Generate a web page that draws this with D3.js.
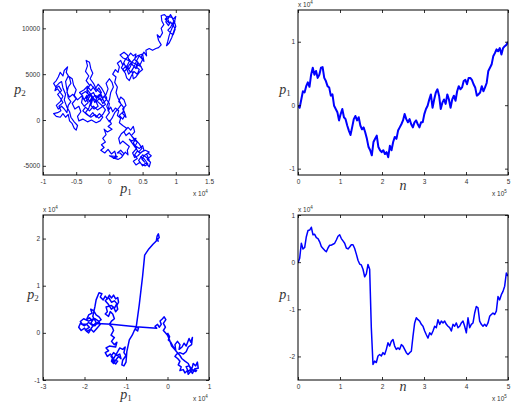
<!DOCTYPE html>
<html>
<head>
<meta charset="utf-8">
<script src="https://cdn.jsdelivr.net/npm/d3@7"></script>
<style>
  body { margin: 0; background: #fff; }
  svg { display: block; }
  .tick text { font-family: "Liberation Sans", Arial, sans-serif; font-size: 6.5px; fill: #333; }
  .tick line { stroke: #000; stroke-width: 0.8; }
  .exp { font-family: "Liberation Sans", Arial, sans-serif; font-size: 6.5px; fill: #333; }
  .lab { font-family: "Liberation Serif", "Times New Roman", serif; fill: #333; }
</style>
</head>
<body>
<svg id="fig" width="518" height="407"></svg>
<script>
// --- données ---

// marche 2D (haut gauche) : p1 en unités de 1e4, p2 brut
const walkTop = [
  [0,0],[0.03,-400],[-0.02,-700],[0.04,-1000],[-0.03,-1300],[-0.08,-1000],[-0.05,-1600],[-0.1,-2000],[-0.06,-2400],[-0.12,-2700],
  [-0.08,-3000],[-0.13,-3300],[-0.07,-3600],[-0.02,-3200],[0.03,-3700],[0.08,-3400],[0.1,-3900],[0.06,-4200],[0.12,-4000],
  [0.0,-3900],[0.05,-4100],[0.13,-4300],[0.18,-4100],[0.22,-3700],[0.17,-3300],[0.12,-3600],[0.16,-3600],
  [0.2,-3900],[0.24,-3500],[0.28,-3800],[0.27,-3300],[0.3,-2900],[0.25,-2600],[0.2,-2300],[0.16,-2600],[0.14,-2000],[0.18,-1500],
  [0.23,-1200],[0.28,-800],[0.32,-1100],[0.36,-700],[0.38,-1300],[0.33,-1700],[0.37,-2100],[0.42,-2400],[0.39,-2800],[0.45,-3100],
  [0.5,-2800],[0.52,-3300],[0.47,-3600],[0.42,-3400],[0.38,-3800],[0.42,-4200],[0.36,-4500],[0.4,-4900],[0.46,-4600],[0.5,-5000],
  [0.55,-4700],[0.6,-5100],[0.62,-4600],[0.57,-4300],[0.63,-3900],[0.58,-3600],[0.52,-3900],[0.49,-4300],[0.53,-4600],[0.47,-4000],
  [0.52,-4200],[0.58,-4800],[0.54,-5000],[0.48,-4800],[0.44,-4400],[0.5,-3800],[0.56,-4100],[0.6,-4400],[0.56,-3700],[0.6,-3500],
  [0.54,-3300],[0.48,-3500],[0.43,-3900],[0.38,-4100],[0.35,-3600],[0.41,-3100],[0.36,-2500],[0.4,-2000],[0.34,-2300],[0.3,-2100],
  [0.44,-3500],[0.49,-3100],[0.45,-2600],[0.4,-2200],[0.34,-1800],[0.3,-1400],[0.25,-1700],[0.22,-1300],[0.26,-900],[0.2,-600],
  [0.15,-300],[0.17,200],[0.12,500],[0.14,1000],[0.09,1300],[0.05,900],[0.02,1400],[-0.02,1000],[0,1800],
  [-0.08,2600],[-0.12,2100],[-0.18,2500],[-0.22,1900],[-0.26,2500],[-0.3,2000],[-0.34,2700],[-0.38,2200],[-0.42,2800],[-0.36,3100],
  [-0.3,2700],[-0.24,3000],[-0.2,2400],[-0.15,2800],[-0.1,2300],[-0.06,1700],[-0.12,1400],[-0.18,1100],[-0.24,1500],[-0.3,1000],
  [-0.36,1400],[-0.4,1000],[-0.34,600],[-0.28,300],[-0.22,600],[-0.16,200],[-0.1,600],[-0.06,1100],[-0.1,1500],[-0.16,1900],
  [-0.22,2200],[-0.28,2800],[-0.34,3400],[-0.28,3900],[-0.22,3300],[-0.17,3900],[-0.12,3500],[-0.08,3000],[-0.04,2400],
  [-0.05,2200],[-0.1,1800],[-0.14,2400],[-0.2,2000],[-0.17,1500],[-0.23,1200],[-0.28,1600],[-0.25,2300],[-0.3,2800],[-0.35,2400],
  [-0.32,1900],[-0.38,1500],[-0.42,1900],[-0.4,2600],[-0.45,3000],[-0.38,3300],[-0.33,3700],[-0.28,3200],[-0.24,3600],[-0.2,3100],
  [-0.16,3500],[-0.12,3000],[-0.16,2500],[-0.22,2700],[-0.27,2200],[-0.31,1300],[-0.36,800],[-0.3,400],[-0.25,800],[-0.2,300],
  [-0.15,700],[-0.1,300],[-0.14,-100],[-0.2,-300],[-0.27,0],[-0.33,-200],[-0.4,100],[-0.46,-100],[-0.48,400],[-0.43,900],
  [-0.46,1500],[-0.52,1200],[-0.56,1800],[-0.5,2300],[-0.55,2800],
  [-0.6,2500],[-0.64,3000],[-0.62,3600],[-0.58,4000],[-0.6,4600],[-0.65,5200],[-0.63,5800],[-0.68,5400],[-0.7,4800],[-0.74,5200],
  [-0.77,4700],[-0.8,4300],[-0.84,4000],[-0.8,3500],[-0.76,3700],[-0.72,3200],[-0.78,2800],[-0.74,2400],[-0.7,1900],[-0.76,1500],
  [-0.73,1000],[-0.78,800],[-0.84,700],[-0.8,400],[-0.74,300],[-0.7,700],[-0.66,300],[-0.62,600],[-0.6,-100],[-0.56,-400],
  [-0.53,-900],[-0.5,-1100],[-0.48,-600],[-0.53,-200],[-0.58,300],[-0.6,900],[-0.64,1400],[-0.68,2200],[-0.66,2800],[-0.7,3500],
  [-0.72,4200],[-0.76,4000],[-0.8,3700],[-0.82,3200],[-0.78,3400],[-0.74,3000],[-0.7,2600],[-0.74,2000],[-0.8,1600],[-0.77,1200],
  [-0.72,1500],[-0.68,1200],[-0.64,800],[-0.62,1600],[-0.58,2000],[-0.62,2400],
  [-0.66,4200],[-0.62,4800],[-0.56,4500],[-0.54,3800],[-0.5,3300],[-0.53,2700],[-0.48,2200],
  [-0.42,2600],[-0.36,2000],[-0.3,2500],[-0.34,3200],[-0.3,3800],[-0.35,4300],[-0.31,4800],[-0.36,5300],[-0.33,5900],[-0.35,6500],
  [-0.3,6300],[-0.28,5600],[-0.25,5100],[-0.29,4500],[-0.24,4000],[-0.2,3400],[-0.14,3000],[-0.1,2400],[-0.05,2800],[-0.02,3400],
  [-0.05,4000],[0,4500],[0.04,4100],[0.06,3600],[0.02,3000],[0,2200],[-0.04,1500],[0,800],[-0.05,300],[0,-200],
  [0.04,200],[0.08,800],[0.13,1200],[0.18,1700],[0.22,1300],[0.2,700],[0.25,300],[0.22,1000],
  [0.15,500],[0.2,100],[0.24,600],[0.2,1200],[0.25,1600],[0.22,2200],[0.17,2500],[0.14,2000],
  [0.17,1800],[0.13,2400],[0.1,3000],[0.12,3600],[0.08,4100],[0.1,4700],[0.05,5000],
  [0.09,5500],[0.13,5200],[0.15,5800],[0.12,6200],[0.17,6500],[0.2,6000],[0.24,6600],[0.28,6900],[0.32,7300],[0.36,7000],
  [0.4,7200],[0.38,6600],[0.43,6300],[0.4,5800],[0.45,5500],[0.42,5000],[0.37,5300],[0.33,4800],[0.3,4300],[0.26,4600],
  [0.24,5100],[0.2,5500],[0.25,5900],[0.3,5600],[0.34,6200],[0.3,6600],[0.35,6000],[0.4,5600],[0.44,6200],[0.48,5800],
  [0.2,6800],[0.16,7100],[0.22,7400],[0.27,7100],[0.3,6400],[0.26,5800],[0.32,5200],[0.37,5800],[0.42,6600],[0.45,7000],
  [0.5,6600],[0.46,6000],[0.5,5500],[0.45,5200],[0.4,4700],[0.36,4500],[0.34,5400],[0.29,5000],[0.27,5400],[0.22,6200],
  [0.18,5700],[0.23,5300],[0.3,6000],[0.36,6500],[0.42,7000],[0.5,7200],
  [0.52,6400],[0.48,6900],[0.52,7400],[0.56,7000],[0.55,7600],[0.6,7800],
  [0.65,7600],[0.7,7800],[0.74,7900],[0.78,8200],[0.74,8700],[0.72,9300],[0.76,9000],[0.8,9500],[0.78,10000],[0.82,10400],
  [0.79,10800],[0.78,11400],[0.83,11500],[0.87,11200],[0.85,10700],[0.89,10300],[0.92,10700],[0.96,10300],[0.93,9800],[0.9,9200],
  [0.88,8600],[0.86,8100],[0.9,8400],[0.94,9000],[0.97,9700],[1,10200],[0.98,10700],[1,11300],[0.96,11000],[0.92,11500],
  [0.88,11000],[0.91,10500],[0.84,11000],[0.88,11300],[0.94,11200],[0.97,10800],[0.92,10100],[0.88,9800],[0.92,9500],[0.96,9300],
  [0.99,9900],[0.96,10400],[0.99,10800]
];

// p1 en fonction de n (haut droite), unités de 1e4, pas régulier sur n = 0..5 (x1e5)
const p1Top = [
  -0.01,-0.04,0.09,0.22,0.2,0.3,0.36,0.29,0.48,0.59,0.48,0.54,0.43,0.48,0.59,0.6,0.43,0.38,0.3,0.28,
  0.15,0.17,-0.01,-0.06,-0.11,-0.24,-0.14,-0.06,-0.19,-0.22,-0.32,-0.4,-0.47,-0.35,-0.22,-0.17,-0.24,-0.19,-0.32,-0.38,
  -0.35,-0.43,-0.53,-0.66,-0.71,-0.79,-0.58,-0.53,-0.48,-0.66,-0.71,-0.74,-0.71,-0.77,-0.74,-0.82,-0.64,-0.71,-0.58,-0.5,
  -0.53,-0.4,-0.35,-0.3,-0.24,-0.14,-0.22,-0.27,-0.22,-0.3,-0.35,-0.27,-0.24,-0.3,-0.35,-0.27,-0.27,-0.14,-0.06,-0.01,
  0.09,0.17,-0.04,0.09,0.2,0.25,0.15,-0.06,0.04,0.09,0.02,0.17,0.09,-0.04,0.09,0.15,0.07,0.22,0.3,0.25,
  0.28,0.38,0.4,0.33,0.43,0.43,0.4,0.33,0.28,0.15,0.17,0.2,0.3,0.22,0.28,0.35,0.54,0.59,0.64,0.77,
  0.82,0.88,0.85,0.9,0.8,0.9,0.93,0.95,1.0
];

// marche 2D (bas gauche) : les deux en unités de 1e4
const walkBottom = [
  [0,0],[0.05,-0.08],[0.02,-0.15],[0.08,-0.2],[0.14,-0.3],[0.2,-0.38],[0.18,-0.25],[0.24,-0.18],[0.3,-0.25],[0.28,-0.35],
  [0.35,-0.3],[0.4,-0.22],[0.45,-0.28],[0.52,-0.12],[0.56,-0.2],[0.6,-0.1],[0.58,-0.25],[0.5,-0.3],[0.45,-0.4],[0.38,-0.45],
  [0.3,-0.42],[0.22,-0.45],[0.18,-0.5],[0.25,-0.55],[0.3,-0.6],[0.26,-0.68],[0.33,-0.72],[0.3,-0.8],[0.38,-0.78],[0.42,-0.85],
  [0.48,-0.8],[0.5,-0.88],[0.56,-0.82],[0.6,-0.72],[0.62,-0.65],[0.68,-0.7],[0.72,-0.62],[0.74,-0.75],
  [0.66,-0.76],[0.6,-0.86],[0.55,-0.78],[0.5,-0.82],[0.45,-0.72],[0.52,-0.7],[0.6,-0.78],[0.7,-0.8],
  [0.68,-0.82],[0.62,-0.8],
  [0.55,-0.75],[0.5,-0.65],[0.42,-0.6],[0.35,-0.55],[0.3,-0.48],[0.24,-0.42],[0.17,-0.35],[0.1,-0.28],[0.05,-0.15],[0,-0.05],
  [-0.05,0],[-0.1,0.05],[-0.05,0.12],[-0.1,0.2],[-0.04,0.28],[-0.08,0.34],[-0.12,0.3],[-0.18,0.25],[-0.15,0.18],[-0.2,0.12],
  [-0.24,0.18],[-0.3,0.14],[-0.26,0.1],
  [-0.76,0.13],[-1.35,0.18],[-1.7,0.2],
  [-1.8,0.15],[-1.9,0.22],[-2.0,0.15],[-2.1,0.2],[-2.14,0.12],[-2.08,0.05],[-2.0,0.1],[-1.95,0.03],[-1.85,0.08],[-1.78,0.02],
  [-1.7,0.1],[-1.62,0.18],[-1.66,0.25],[-1.75,0.3],[-1.82,0.26],[-1.88,0.32],[-1.95,0.28],[-1.9,0.38],[-1.82,0.42],[-1.85,0.5],
  [-1.78,0.47],[-1.72,0.38],[-1.65,0.34],[-1.6,0.28],[-1.68,0.22],[-1.75,0.15],[-1.85,0.2],[-1.78,0.3],
  [-1.9,0.25],[-2.02,0.3],[-2.1,0.24],[-2.05,0.18],[-1.95,0.18],[-1.88,0.12],[-1.98,0.06],[-1.9,0.0],[-1.82,0.12],[-1.72,0.22],[-1.8,0.35],
  [-1.75,0.55],[-1.72,0.7],[-1.65,0.85],[-1.58,0.83],[-1.62,0.76],[-1.55,0.7],[-1.5,0.78],[-1.45,0.72],[-1.4,0.8],[-1.35,0.74],
  [-1.3,0.8],[-1.25,0.72],[-1.2,0.75],[-1.18,0.65],[-1.22,0.58],[-1.2,0.5],[-1.25,0.45],[-1.3,0.55],[-1.35,0.5],[-1.42,0.6],
  [-1.5,0.68],[-1.42,0.75],[-1.35,0.65],[-1.28,0.68],[-1.22,0.62],[-1.28,0.52],[-1.35,0.58],
  [-1.48,0.55],[-1.45,0.45],[-1.5,0.4],[-1.42,0.35],[-1.38,0.45],[-1.32,0.4],[-1.28,0.3],[-1.35,0.25],[-1.4,0.18],[-1.33,0.12],
  [-1.3,0.05],[-1.36,-0.05],[-1.28,-0.1],[-1.35,-0.18],[-1.28,-0.25],[-1.22,-0.2],[-1.25,-0.3],[-1.4,-0.28],[-1.48,-0.32],[-1.42,-0.38],
  [-1.5,-0.42],[-1.45,-0.5],[-1.38,-0.45],[-1.32,-0.52],[-1.35,-0.6],[-1.3,-0.65],[-1.25,-0.58],[-1.18,-0.5],[-1.12,-0.55],[-1.15,-0.45],
  [-1.22,-0.48],[-1.3,-0.42],[-1.36,-0.5],[-1.28,-0.58],[-1.2,-0.6],[-1.25,-0.66],[-1.32,-0.58],
  [-1.2,-0.4],[-1.15,-0.32],[-1.08,-0.35],[-1.02,-0.3],[-1.05,-0.42],[-1.0,-0.48],[-1.08,-0.58],[-1.1,-0.68],[-1.05,-0.7],[-1.0,-0.62],
  [-0.98,-0.4],[-0.92,-0.15],[-0.85,-0.05],[-0.8,0.05],[-0.75,0.12],[-0.7,0.1],[-0.72,0.04],[-0.78,0.08],[-0.75,0.15],
  [-0.68,0.6],[-0.6,1.2],[-0.55,1.65],[-0.45,1.78],[-0.35,1.88],[-0.27,1.95],[-0.25,2.05],[-0.22,2.1],[-0.2,2.02],[-0.24,1.98],[-0.22,1.93]
];

// p1 en fonction de n (bas droite), unités de 1e4, pas régulier sur n = 0..5 (x1e5)
const p1Bottom = [
  -0.02,0.08,0.4,0.28,0.31,0.54,0.67,0.68,0.74,0.58,0.59,0.52,0.5,0.43,0.33,0.29,0.25,0.22,0.3,0.36,
  0.36,0.38,0.4,0.47,0.55,0.58,0.5,0.45,0.4,0.3,0.28,0.32,0.37,0.37,0.29,0.17,0.04,-0.04,-0.06,-0.15,
  -0.31,-0.25,-0.05,-0.15,-1.4,-2.17,-2.1,-2.13,-1.99,-1.96,-1.99,-1.92,-1.96,-1.85,-1.71,-1.78,-1.68,-1.64,-1.78,-1.85,
  -1.82,-1.85,-1.75,-1.78,-1.85,-1.92,-1.96,-1.92,-1.89,-1.57,-1.29,-1.18,-1.22,-1.25,-1.32,-1.36,-1.46,-1.54,-1.61,-1.5,
  -1.54,-1.46,-1.36,-1.39,-1.22,-1.32,-1.25,-1.29,-1.25,-1.32,-1.36,-1.39,-1.46,-1.32,-1.36,-1.29,-1.39,-1.36,-1.29,-1.25,
  -1.36,-1.5,-1.18,-1.39,-1.32,-1.29,-1.08,-0.94,-0.97,-1.25,-1.32,-1.36,-1.32,-1.36,-1.29,-1.15,-1.11,-1.08,-1.11,-1.04,
  -0.73,-0.8,-0.69,-0.62,-0.51,-0.23,-0.3
];

// graduations
const ticksP1Top = [-1, -0.5, 0, 0.5, 1, 1.5];
const ticksP2Top = [-5000, 0, 5000, 10000];
const ticksN = [0, 1, 2, 3, 4, 5];
const ticksP1TopSeries = [-1, 0, 1];
const ticksP1BottomWalk = [-3, -2, -1, 0, 1];
const ticksP2Bottom = [-1, 0, 1, 2];
const ticksP1BottomSeries = [-2, -1, 0, 1];

const svg = d3.select("#fig");
const blue = "#0000ff";

function panel(cfg) {
    const [x0, y0, x1, y1] = cfg.box;
    const x = d3.scaleLinear().domain(cfg.xDom).range([x0, x1]);
    const y = d3.scaleLinear().domain(cfg.yDom).range([y1, y0]);
    const g = svg.append("g");

    const fmt = d => String(d);

    // courbe
    const clipId = "clip" + cfg.id;
    svg.append("clipPath").attr("id", clipId)
        .append("rect").attr("x", x0).attr("y", y0).attr("width", x1 - x0).attr("height", y1 - y0);
    g.append("path")
        .datum(cfg.data)
        .attr("clip-path", `url(#${clipId})`)
        .attr("fill", "none")
        .attr("stroke", blue)
        .attr("stroke-width", cfg.lw)
        .attr("stroke-linejoin", "round")
        .attr("d", d3.line().x(d => x(d[0])).y(d => y(d[1])));

    // axes (ticks vers l'intérieur, sur les quatre côtés)
    g.append("g").attr("transform", `translate(0,${y1})`)
        .call(d3.axisBottom(x).tickValues(cfg.xTicks).tickFormat(fmt).tickSizeInner(-3).tickSizeOuter(0).tickPadding(4))
        .call(a => a.select(".domain").remove());
    g.append("g").attr("transform", `translate(0,${y0})`)
        .call(d3.axisTop(x).tickValues(cfg.xTicks).tickFormat("").tickSizeInner(-3).tickSizeOuter(0))
        .call(a => a.select(".domain").remove());
    g.append("g").attr("transform", `translate(${x0},0)`)
        .call(d3.axisLeft(y).tickValues(cfg.yTicks).tickFormat(fmt).tickSizeInner(-3).tickSizeOuter(0).tickPadding(3))
        .call(a => a.select(".domain").remove());
    g.append("g").attr("transform", `translate(${x1},0)`)
        .call(d3.axisRight(y).tickValues(cfg.yTicks).tickFormat("").tickSizeInner(-3).tickSizeOuter(0))
        .call(a => a.select(".domain").remove());

    g.append("rect")
        .attr("x", x0).attr("y", y0).attr("width", x1 - x0).attr("height", y1 - y0)
        .attr("fill", "none").attr("stroke", "#000").attr("stroke-width", 1);

    // étiquettes d'axes
    const addLabel = (px, py, main, sub) => {
        const t = g.append("text").attr("class", "lab").attr("x", px).attr("y", py)
            .attr("text-anchor", "middle").style("font-size", "14px");
        t.append("tspan").style("font-style", "italic").text(main);
        if (sub) t.append("tspan").attr("dy", 2).style("font-size", "9px").text(sub);
    };
    addLabel((x0 + x1) / 2, cfg.xLabY, cfg.xLab[0], cfg.xLab[1]);
    addLabel(cfg.yLabX, (y0 + y1) / 2 + 1, cfg.yLab[0], cfg.yLab[1]);

    // multiplicateurs "x 10^k"
    const addExp = (px, py, k) => {
        const t = g.append("text").attr("class", "exp").attr("x", px).attr("y", py);
        t.append("tspan").text("x 10");
        t.append("tspan").attr("dy", -3).style("font-size", "4.5px").text(k);
    };
    if (cfg.xExp) addExp(x1 - 16, y1 + 21, cfg.xExp);
    if (cfg.yExp) addExp(x0, y0 - 3, cfg.yExp);
}

panel({
    id: 1, box: [43, 10, 209, 175], xDom: [-1, 1.5], yDom: [-6000, 12000],
    xTicks: ticksP1Top, yTicks: ticksP2Top, data: walkTop, lw: 1.2,
    xLab: ["p", "1"], yLab: ["p", "2"], xLabY: 193, yLabX: 20, xExp: "4"
});
panel({
    id: 2, box: [298, 10, 508, 175], xDom: [0, 5], yDom: [-1.1, 1.5],
    xTicks: ticksN, yTicks: ticksP1TopSeries,
    data: p1Top.map((v, i) => [i * 5 / (p1Top.length - 1), v]), lw: 2,
    xLab: ["n", ""], yLab: ["p", "1"], xLabY: 190, yLabX: 285, xExp: "5", yExp: "4"
});
panel({
    id: 3, box: [43, 215, 209, 380], xDom: [-3, 1], yDom: [-1, 2.5],
    xTicks: ticksP1BottomWalk, yTicks: ticksP2Bottom, data: walkBottom, lw: 1.5,
    xLab: ["p", "1"], yLab: ["p", "2"], xLabY: 399, yLabX: 33, xExp: "4", yExp: "4"
});
panel({
    id: 4, box: [298, 215, 508, 380], xDom: [0, 5], yDom: [-2.5, 1],
    xTicks: ticksN, yTicks: ticksP1BottomSeries,
    data: p1Bottom.map((v, i) => [i * 5 / (p1Bottom.length - 1), v]), lw: 1.5,
    xLab: ["n", ""], yLab: ["p", "1"], xLabY: 391, yLabX: 285, xExp: "5", yExp: "4"
});
</script>
</body>
</html>
